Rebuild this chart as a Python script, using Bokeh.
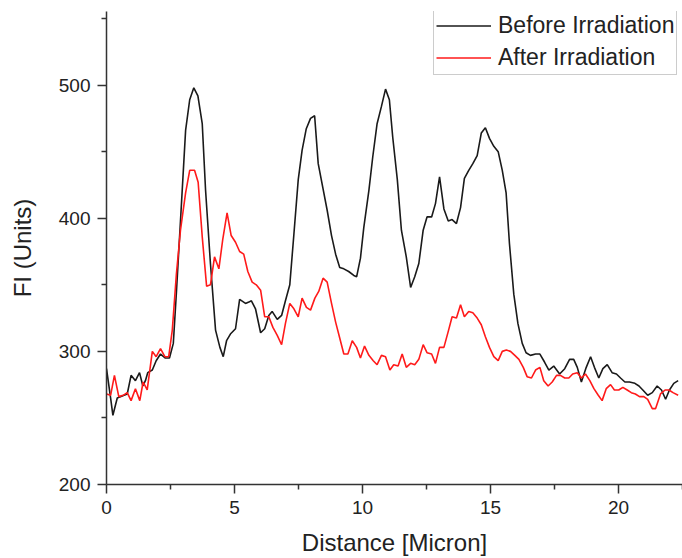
from bokeh.plotting import figure
from bokeh.models import Range1d, Legend, LegendItem, FixedTicker
from bokeh.embed import file_html
from bokeh.resources import INLINE

# Distance [Micron] and FI (Units)
before_x = [0.00, 0.16, 0.25, 0.42, 0.81, 0.96, 1.13, 1.29, 1.42, 1.52, 1.61, 1.79, 1.94, 2.11, 2.30, 2.46,
            2.61, 2.73, 2.89, 3.09, 3.25, 3.41, 3.57, 3.74, 3.87, 4.06, 4.26, 4.43, 4.56, 4.69, 4.84, 5.04,
            5.20, 5.43, 5.56, 5.66, 5.82, 6.02, 6.18, 6.34, 6.47, 6.67, 6.84, 6.99, 7.16, 7.32, 7.49, 7.64,
            7.80, 7.97, 8.13, 8.27, 8.45, 8.62, 8.79, 8.95, 9.11, 9.27, 9.46, 9.66, 9.77, 9.92, 10.05, 10.25,
            10.40, 10.57, 10.74, 10.90, 11.05, 11.18, 11.36, 11.52, 11.71, 11.88, 12.04, 12.20, 12.37, 12.52,
            12.70, 12.85, 13.01, 13.18, 13.35, 13.50, 13.67, 13.83, 13.98, 14.15, 14.31, 14.48, 14.64, 14.80,
            14.96, 15.13, 15.30, 15.46, 15.61, 15.74, 15.91, 16.07, 16.24, 16.39, 16.56, 16.76, 16.93, 17.11,
            17.28, 17.47, 17.70, 17.90, 18.09, 18.25, 18.39, 18.55, 18.74, 18.91, 19.06, 19.23, 19.39, 19.56,
            19.75, 19.92, 20.08, 20.25, 20.43, 20.64, 20.80, 20.95, 21.14, 21.32, 21.51, 21.68, 21.84, 21.99,
            22.16, 22.33]
before_y = [287, 265, 252, 265, 268, 282, 278, 284, 274, 278, 284, 286, 293, 298, 295, 295,
            306, 344, 398, 466, 489, 498, 492, 471, 421, 366, 316, 303, 296, 308, 313, 317,
            339, 336, 337, 338, 332, 314, 317, 327, 330, 324, 327, 338, 350, 388, 429, 451,
            467, 475, 477, 441, 423, 406, 387, 373, 363, 362, 360, 357, 356, 370, 393, 421,
            446, 471, 484, 497, 489, 461, 429, 391, 371, 348, 356, 366, 391, 401,
            401, 411, 431, 407, 398, 399, 396, 408, 430, 436, 441, 447, 464, 468,
            460, 454, 450, 436, 419, 381, 343, 321, 306, 299, 297, 298, 298, 292,
            286, 289, 283, 287, 294, 294, 288, 277, 288, 296, 288, 280, 287, 290,
            284, 283, 280, 277, 277, 276, 274, 271, 267, 269, 274, 271, 264, 271,
            276, 278]

after_x = [0.00, 0.16, 0.31, 0.48, 0.65, 0.81, 0.96, 1.13, 1.30, 1.43, 1.59, 1.79, 1.94, 2.11, 2.28, 2.43,
           2.57, 2.73, 2.89, 3.09, 3.25, 3.44, 3.58, 3.74, 3.91, 4.06, 4.22, 4.39, 4.54, 4.71, 4.87, 5.04,
           5.20, 5.36, 5.52, 5.69, 5.85, 6.02, 6.18, 6.34, 6.50, 6.67, 6.84, 6.99, 7.16, 7.32, 7.49, 7.64,
           7.81, 7.97, 8.14, 8.29, 8.46, 8.62, 8.79, 8.95, 9.11, 9.27, 9.43, 9.60, 9.77, 9.92, 10.08, 10.25,
           10.42, 10.57, 10.74, 10.90, 11.07, 11.22, 11.39, 11.55, 11.71, 11.88, 12.04, 12.20, 12.37, 12.52,
           12.70, 12.85, 13.01, 13.18, 13.35, 13.50, 13.67, 13.83, 13.98, 14.15, 14.31, 14.48, 14.64, 14.80,
           14.96, 15.13, 15.30, 15.46, 15.62, 15.78, 15.95, 16.11, 16.28, 16.43, 16.60, 16.76, 16.93, 17.08,
           17.25, 17.41, 17.58, 17.73, 17.90, 18.06, 18.21, 18.39, 18.55, 18.71, 18.88, 19.04, 19.21, 19.36,
           19.52, 19.69, 19.84, 20.01, 20.17, 20.34, 20.50, 20.66, 20.82, 20.99, 21.14, 21.32, 21.45, 21.64,
           21.82, 21.97, 22.13, 22.33]
after_y = [268, 267, 282, 266, 267, 269, 263, 272, 263, 277, 271, 300, 296, 302, 296, 296,
           316, 358, 391, 419, 436, 436, 427, 386, 349, 350, 371, 362, 384, 404, 387, 382,
           375, 373, 360, 352, 350, 346, 326, 326, 318, 312, 305, 321, 336, 332, 326, 340,
           333, 331, 340, 345, 355, 352, 336, 322, 310, 298, 298, 308, 303, 295, 304, 297,
           293, 290, 297, 296, 286, 290, 289, 298, 288, 291, 290, 294, 305, 299,
           298, 291, 303, 303, 315, 326, 325, 335, 326, 330, 329, 325, 320, 311,
           303, 296, 293, 300, 301, 300, 297, 294, 288, 281, 280, 286, 288, 278,
           274, 277, 282, 282, 280, 280, 283, 284, 280, 283, 278, 272, 267, 263,
           272, 275, 271, 271, 273, 271, 269, 268, 266, 266, 264, 257, 257, 268,
           271, 271, 269, 267]

series_labels = ["Before Irradiation", "After Irradiation"]
x_ticks = [0, 5, 10, 15, 20]
y_ticks = [200, 300, 400, 500]

FONT = "Liberation Sans"
TXT = "#222222"

p = figure(width=682, height=558, output_backend="svg", toolbar_location=None,
           x_range=Range1d(0, 22.5), y_range=Range1d(200, 555.3),
           min_border_left=106, min_border_right=0, min_border_top=11, min_border_bottom=74)
p.outline_line_color = None
p.xgrid.visible = False
p.ygrid.visible = False

r1 = p.line(before_x, before_y, line_color="#1a1a1a", line_width=1.6)
r2 = p.line(after_x, after_y, line_color="#ff1a1a", line_width=1.6)

for ax in (p.xaxis[0], p.yaxis[0]):
    ax.axis_line_color = "#333333"
    ax.axis_line_width = 1.5
    ax.major_tick_line_color = "#333333"
    ax.minor_tick_line_color = "#333333"
    ax.major_tick_line_width = 1.5
    ax.minor_tick_line_width = 1.5
    ax.major_tick_in = 0
    ax.minor_tick_in = 0
    ax.major_tick_out = 9
    ax.minor_tick_out = 5
    ax.major_label_text_font = FONT
    ax.major_label_text_font_size = "19px"
    ax.major_label_text_color = TXT
    ax.axis_label_text_font = FONT
    ax.axis_label_text_font_size = "24px"
    ax.axis_label_text_font_style = "normal"
    ax.axis_label_text_color = TXT

p.xaxis[0].ticker = FixedTicker(ticks=x_ticks, minor_ticks=[2.5, 7.5, 12.5, 17.5, 22.5])
p.yaxis[0].ticker = FixedTicker(ticks=y_ticks, minor_ticks=[250, 350, 450, 550])
p.xaxis[0].axis_label = "Distance [Micron]"
p.yaxis[0].axis_label = "FI (Units)"
p.xaxis[0].major_label_standoff = 7
p.yaxis[0].major_label_standoff = 7
p.xaxis[0].axis_label_standoff = 12
p.yaxis[0].axis_label_standoff = 20

legend = Legend(items=[LegendItem(label=series_labels[0], renderers=[r1]),
                       LegendItem(label=series_labels[1], renderers=[r2])],
                location=(327, 409))
legend.label_text_font = FONT
legend.label_text_font_size = "23px"
legend.label_text_color = TXT
legend.glyph_width = 55
legend.glyph_height = 29
legend.label_height = 29
legend.label_standoff = 7
legend.spacing = 3
legend.padding = 2
legend.margin = 0
legend.border_line_color = "#999999"
legend.border_line_width = 1.5
legend.background_fill_alpha = 1
p.add_layout(legend, "center")

open("out.html", "w").write(file_html(p, INLINE))
